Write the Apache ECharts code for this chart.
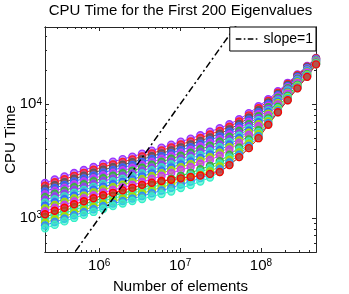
<!DOCTYPE html>
<html><head><meta charset="utf-8">
<script src="https://cdn.jsdelivr.net/npm/echarts@6/dist/echarts.min.js"></script>
<style>html,body{margin:0;padding:0;background:#fff}#c{width:349px;height:294px}</style>
</head><body><div id="c"></div>
<script>
// Number of elements (x values)
const numElements = [2.14e5, 2.82e5, 3.72e5, 4.90e5, 6.46e5, 8.51e5, 1.12e6, 1.48e6, 1.95e6, 2.57e6,
  3.39e6, 4.47e6, 5.89e6, 7.76e6, 1.02e7, 1.35e7, 1.78e7, 2.34e7, 3.09e7, 4.07e7,
  5.37e7, 7.08e7, 9.33e7, 1.23e8, 1.62e8, 2.14e8, 2.82e8, 3.72e8, 4.79e8];

// CPU time curves (a representative subset of the 200 eigenvalue curves), top to bottom at the left
const cpuA  = [2028, 2176, 2312, 2481, 2636, 2802, 2977, 3130, 3292, 3463, 3680, 3910, 4154, 4413, 4690, 4983, 5346, 5739, 6158, 6676, 7386, 8337, 9605, 11063, 13004, 15441, 18336, 21764, 25586];
const cpuAB = [1918, 2058, 2186, 2346, 2493, 2650, 2815, 2960, 3113, 3275, 3480, 3697, 3928, 4173, 4435, 4712, 5055, 5426, 5835, 6348, 7049, 7985, 9232, 10718, 12669, 15106, 18017, 21465, 25378];
const cpuB  = [1807, 1939, 2060, 2211, 2349, 2497, 2652, 2789, 2933, 3086, 3279, 3484, 3701, 3932, 4179, 4440, 4763, 5113, 5511, 6019, 6712, 7632, 8859, 10373, 12333, 14771, 17698, 21165, 25169];
const cpuBC = [1709, 1834, 1948, 2091, 2221, 2361, 2508, 2637, 2774, 2918, 3101, 3295, 3500, 3718, 3952, 4199, 4504, 4835, 5222, 5723, 6404, 7309, 8515, 10049, 12015, 14452, 17390, 20873, 24963];
const cpuC  = [1610, 1728, 1836, 1970, 2093, 2225, 2364, 2485, 2614, 2750, 2922, 3105, 3298, 3504, 3724, 3957, 4245, 4557, 4933, 5426, 6096, 6986, 8170, 9724, 11697, 14132, 17082, 20580, 24757];
const cpuCD = [1523, 1635, 1737, 1864, 1980, 2105, 2236, 2351, 2473, 2601, 2764, 2937, 3120, 3314, 3523, 3743, 4015, 4310, 4674, 5159, 5818, 6692, 7853, 9421, 11396, 13826, 16786, 20297, 24556];
const cpuD  = [1436, 1541, 1637, 1757, 1866, 1984, 2108, 2216, 2331, 2452, 2605, 2768, 2941, 3124, 3321, 3528, 3785, 4063, 4415, 4892, 5540, 6398, 7536, 9117, 11094, 13519, 16490, 20014, 24355];
const cpuDE = [1358, 1457, 1548, 1662, 1765, 1876, 1993, 2096, 2204, 2319, 2464, 2618, 2781, 2955, 3140, 3336, 3579, 3842, 4181, 4652, 5287, 6127, 7243, 8833, 10808, 13226, 16203, 19740, 24158];
const cpuE  = [1280, 1373, 1459, 1566, 1663, 1768, 1878, 1975, 2077, 2185, 2322, 2467, 2621, 2785, 2959, 3144, 3373, 3621, 3947, 4411, 5034, 5856, 6950, 8548, 10522, 12932, 15916, 19466, 23961];
const cpuEF = [1210, 1298, 1379, 1480, 1572, 1672, 1776, 1867, 1964, 2066, 2195, 2332, 2478, 2633, 2798, 2972, 3189, 3423, 3741, 4194, 4803, 5609, 6681, 8281, 10251, 12652, 15639, 19198, 23767];
const cpuF  = [1140, 1223, 1299, 1394, 1481, 1575, 1673, 1759, 1850, 1946, 2068, 2197, 2335, 2480, 2636, 2800, 3004, 3225, 3535, 3977, 4572, 5361, 6411, 8014, 9979, 12371, 15362, 18930, 23572];
const cpuG  = [1016, 1090, 1158, 1243, 1321, 1404, 1491, 1568, 1649, 1735, 1844, 1959, 2081, 2211, 2350, 2496, 2678, 2875, 3162, 3585, 4154, 4907, 5913, 7514, 9464, 11835, 14828, 18408, 23183];
const cpuGH = [962, 1032, 1096, 1176, 1250, 1329, 1411, 1484, 1561, 1642, 1745, 1854, 1969, 2092, 2223, 2362, 2534, 2720, 2996, 3409, 3964, 4700, 5683, 7280, 9220, 11579, 14572, 18155, 22995];
const cpuH  = [907, 973, 1033, 1109, 1178, 1253, 1331, 1399, 1472, 1548, 1645, 1748, 1857, 1973, 2096, 2227, 2390, 2565, 2830, 3233, 3773, 4492, 5453, 7045, 8976, 11323, 14315, 17901, 22807];
const cpuHI = [858, 921, 983, 1055, 1121, 1191, 1265, 1337, 1406, 1479, 1557, 1646, 1741, 1841, 1965, 2088, 2240, 2416, 2681, 3075, 3601, 4302, 5243, 6827, 8742, 11082, 14064, 17662, 22621];
const cpuI  = [809, 868, 932, 1000, 1063, 1129, 1199, 1274, 1340, 1410, 1468, 1544, 1624, 1708, 1833, 1948, 2090, 2266, 2532, 2917, 3428, 4112, 5033, 6608, 8508, 10840, 13812, 17423, 22434];
const cpuJ  = [1077, 1156, 1228, 1317, 1400, 1488, 1581, 1662, 1748, 1839, 1954, 2040, 2110, 2170, 2230, 2290, 2360, 2440, 2532, 2917, 3428, 4112, 5033, 6608, 8508, 10840, 13812, 17423, 22434];

const curves = [cpuA, cpuAB, cpuB, cpuBC, cpuC, cpuCD, cpuD, cpuDE, cpuE, cpuEF, cpuF, cpuG, cpuGH, cpuH, cpuHI, cpuI, cpuJ];
const curveColors = ['#9933ff', '#ff2020', '#5a5a5a', '#3366ff', '#cc33ff', '#33bb33', '#9933ff', '#33e6c0',
  '#3366ff', '#aadd00', '#cc33ff', '#33bb33', '#33e6c0', '#aadd00', '#2e8bff', '#33f0c8', '#ff0000'];

// reference line slope=1
const slopeX = [4e5, 1e8];
const slopeY = [4e2, 1e5];

const xTickExps = [6, 7, 8];
const yTickExps = [3, 4];

const X_MIN = 5.33, X_MAX = 8.68, Y_MIN = 2.70, Y_MAX = 4.68;
const FONT = "'Liberation Sans', Arial, Helvetica, sans-serif";
const AX = '#262626';

function minorTicks(lo, hi) {
  const out = [];
  for (let d = Math.floor(lo); d <= Math.ceil(hi); d++)
    for (let m = 2; m <= 9; m++) { const v = d + Math.log10(m); if (v > lo && v < hi) out.push(v); }
  return out;
}
function hexA(h, a) {
  const r = parseInt(h.slice(1, 3), 16), g = parseInt(h.slice(3, 5), 16), b = parseInt(h.slice(5, 7), 16);
  return 'rgba(' + r + ',' + g + ',' + b + ',' + a + ')';
}
const rich = {
  b: { fontSize: 15, fontFamily: FONT, color: '#000', padding: [3, 0, 0, 0], lineHeight: 15, verticalAlign: 'bottom' },
  s: { fontSize: 10, fontFamily: FONT, color: '#000', lineHeight: 10, verticalAlign: 'top' }
};
function expFmt(v) { return '{b|10}{s|' + Math.round(v) + '}'; }

function axis(kind, pos, ticks, len, labels) {
  const o = {
    type: 'value', position: pos, min: kind === 'x' ? X_MIN : Y_MIN, max: kind === 'x' ? X_MAX : Y_MAX,
    axisLine: { show: true, onZero: false, lineStyle: { color: AX, width: 1 } },
    axisTick: { show: true, inside: true, length: len, customValues: ticks, lineStyle: { color: AX, width: 1 } },
    splitLine: { show: false },
    axisLabel: { show: false }
  };
  if (labels) {
    o.axisLabel = { show: true, customValues: ticks, formatter: expFmt, rich: rich, margin: kind === 'x' ? 6 : 3 };
  }
  return o;
}
const xMinor = minorTicks(X_MIN, X_MAX), yMinor = minorTicks(Y_MIN, Y_MAX);

const series = curves.map((c, i) => ({
  type: 'line', name: 'eig' + i,
  data: numElements.map((x, k) => [Math.log10(x), Math.log10(c[k])]),
  symbol: 'circle', symbolSize: 7, showSymbol: true,
  lineStyle: { color: curveColors[i], width: 1 },
  itemStyle: { color: hexA(curveColors[i], 0.6), borderColor: curveColors[i], borderWidth: 1.4 },
  emphasis: { disabled: true }, silent: true, z: 2
}));
series.push({
  type: 'line', name: 'slope=1',
  data: slopeX.map((x, k) => [Math.log10(x), Math.log10(slopeY[k])]),
  symbol: 'none', lineStyle: { color: '#000', width: 1.5, type: [7, 3, 2, 3] },
  itemStyle: { color: '#000' }, z: 3, silent: true
});

const nameStyle = { fontSize: 15, fontFamily: FONT, color: '#000' };
const chart = echarts.init(document.getElementById('c'), null, { renderer: 'canvas' });
chart.setOption({
  animation: false,
  backgroundColor: '#fff',
  title: {
    text: 'CPU Time for the First 200 Eigenvalues', left: 180.5, top: 3, textAlign: 'center', padding: 0,
    textStyle: { fontSize: 15, fontWeight: 'normal', fontFamily: FONT, color: '#000' }
  },
  legend: {
    data: [{ name: 'slope=1', icon: 'path://M0,0h7v2h-7z M10,0h2v2h-2z M15,0h7v2h-7z M25,0h2v2h-2z' }],
    right: 33, top: 27, orient: 'vertical',
    backgroundColor: '#fff', borderColor: '#000', borderWidth: 1, borderRadius: 0,
    padding: [4, 3, 4, 6], itemWidth: 24, itemHeight: 1.6, itemGap: 4,
    itemStyle: { color: '#000', borderWidth: 0 },
    textStyle: { fontSize: 14, fontFamily: FONT, color: '#000', padding: [0, 0, 0, 0], lineHeight: 16 }
  },
  grid: { left: 45, right: 33, top: 27, bottom: 42, containLabel: false, outerBoundsMode: 'none' },
  xAxis: [
    Object.assign(axis('x', 'bottom', xTickExps, 4, true), { name: 'Number of elements', nameLocation: 'middle', nameGap: 27, nameMoveOverlap: false, nameTextStyle: nameStyle }),
    axis('x', 'bottom', xMinor, 2, false),
    axis('x', 'top', xTickExps, 4, false),
    axis('x', 'top', xMinor, 2, false)
  ],
  yAxis: [
    Object.assign(axis('y', 'left', yTickExps, 4, true), { name: 'CPU Time', nameLocation: 'middle', nameGap: 27, nameMoveOverlap: false, nameTextStyle: nameStyle }),
    axis('y', 'left', yMinor, 2, false),
    axis('y', 'right', yTickExps, 4, false),
    axis('y', 'right', yMinor, 2, false)
  ],
  series: series
});
</script></body></html>
